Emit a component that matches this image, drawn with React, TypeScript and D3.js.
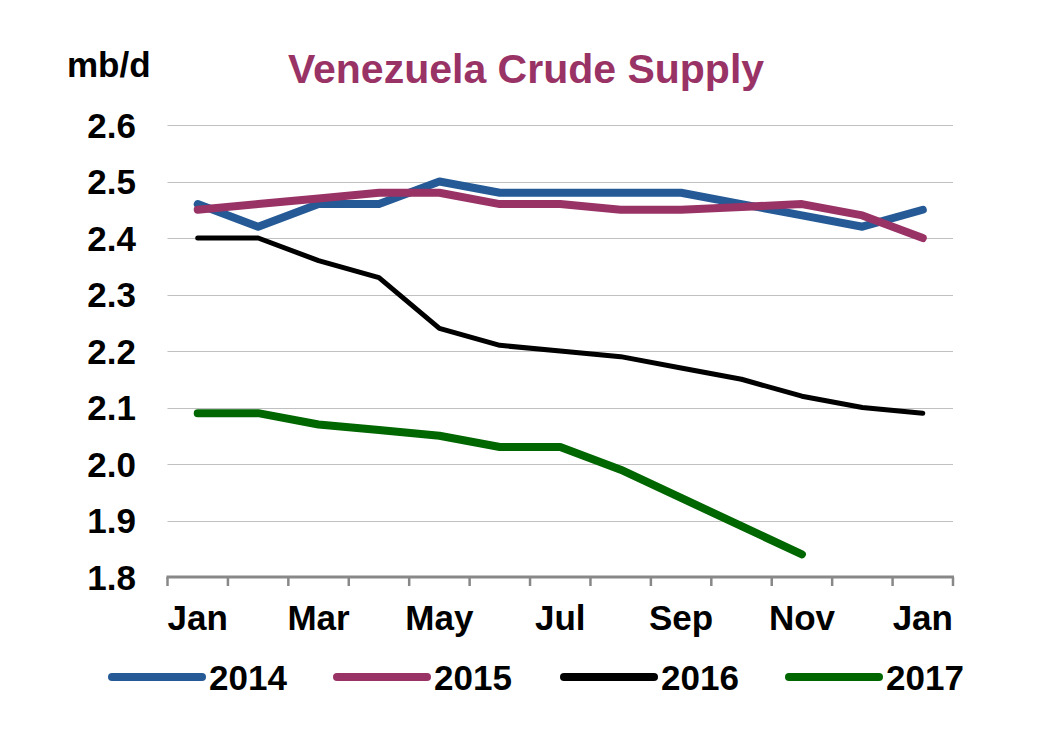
import React from "react";
import * as d3 from "d3";

const months = ["Jan","Feb","Mar","Apr","May","Jun","Jul","Aug","Sep","Oct","Nov","Dec","Jan2"];
const monthLabels = ["Jan","","Mar","","May","","Jul","","Sep","","Nov","","Jan"];
const yTicks = [1.8,1.9,2.0,2.1,2.2,2.3,2.4,2.5,2.6];

const s2014 = [2.46,2.42,2.46,2.46,2.50,2.48,2.48,2.48,2.48,2.46,2.44,2.42,2.45];
const s2015 = [2.45,2.46,2.47,2.48,2.48,2.46,2.46,2.45,2.45,2.455,2.46,2.44,2.40];
const s2016 = [2.40,2.40,2.36,2.33,2.24,2.21,2.20,2.19,2.17,2.15,2.12,2.10,2.09];
const s2017 = [2.09,2.09,2.07,2.06,2.05,2.03,2.03,1.99,1.94,1.89,1.84];

const seriesNames = ["2014","2015","2016","2017"];
const seriesColors = ["#255a96","#993366","#000000","#006600"];
const seriesWidths = [8,8,5,8];
const seriesData = [s2014,s2015,s2016,s2017];

export default function App() {
  const W = 1064, H = 748;
  const left = 167.5, right = 953, top = 125, bottom = 577;
  const x = d3.scaleBand<string>().domain(months).range([left, right]);
  const y = d3.scaleLinear().domain([1.8, 2.6]).range([bottom, top]);
  const font = "'Liberation Sans', Arial, sans-serif";
  const line = d3.line<number>()
    .x((_, i) => (x(months[i]) as number) + x.bandwidth() / 2)
    .y(d => y(d));
  const legendX = [108, 333, 560, 785];
  return (
    <svg width={W} height={H} style={{ position: "absolute", left: 0, top: 0 }} fontFamily={font}>
      <rect width={W} height={H} fill="#fff" />
      <text x={526} y={83} textAnchor="middle" fontSize={41} fontWeight="bold" fill="#993366">Venezuela Crude Supply</text>
      <text x={67} y={77} fontSize={35} fontWeight="bold" fill="#000">mb/d</text>
      {yTicks.map(t => (
        <g key={t}>
          {t > 1.8 && <line x1={left} x2={right} y1={Math.round(y(t)) + 0.5} y2={Math.round(y(t)) + 0.5} stroke="#c0c0c0" strokeWidth={1} />}
          <text x={136} y={y(t) + 12.5} textAnchor="end" fontSize={35} fontWeight="bold">{t.toFixed(1)}</text>
        </g>
      ))}
      <line x1={left - 1} x2={right + 1} y1={bottom} y2={bottom} stroke="#888" strokeWidth={3} />
      {months.map((m, i) => (
        <line key={m} x1={x(m) as number} x2={x(m) as number} y1={bottom} y2={bottom + 9} stroke="#888" strokeWidth={2.5} />
      ))}
      <line x1={right} x2={right} y1={bottom} y2={bottom + 9} stroke="#888" strokeWidth={2.5} />
      {monthLabels.map((l, i) => l ? (
        <text key={i} x={(x(months[i]) as number) + x.bandwidth() / 2} y={630} textAnchor="middle" fontSize={35} fontWeight="bold">{l}</text>
      ) : null)}
      {seriesData.map((s, k) => (
        <path key={k} d={line(s) || ""} fill="none" stroke={seriesColors[k]} strokeWidth={seriesWidths[k]} strokeLinecap="round" strokeLinejoin="round" />
      ))}
      {seriesNames.map((n, k) => (
        <g key={n}>
          <line x1={legendX[k] + 4} x2={legendX[k] + 94} y1={677} y2={677} stroke={seriesColors[k]} strokeWidth={8} strokeLinecap="round" />
          <text x={legendX[k] + 101} y={690} fontSize={35} fontWeight="bold">{n}</text>
        </g>
      ))}
    </svg>
  );
}
